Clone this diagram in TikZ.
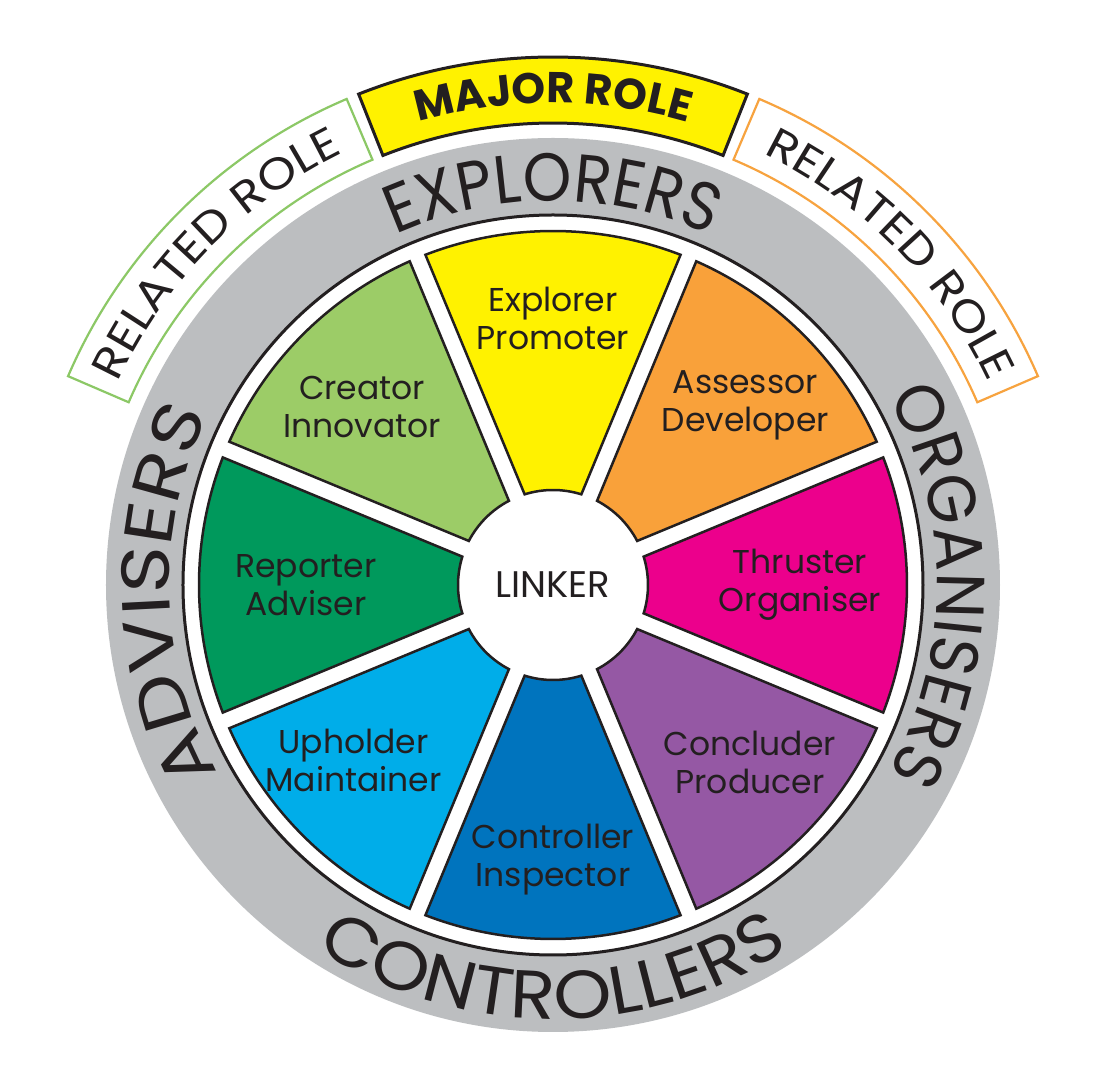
\documentclass[tikz,border=0pt]{standalone}
\usepackage{fontspec}
\setmainfont{Poppins}
\usetikzlibrary{decorations.text}
\definecolor{cyellow}{HTML}{FFF200}
\definecolor{corange}{HTML}{F9A13A}
\definecolor{cmagenta}{HTML}{EC008C}
\definecolor{cpurple}{HTML}{9558A4}
\definecolor{cblue}{HTML}{0074BE}
\definecolor{ccyan}{HTML}{00ADE9}
\definecolor{cdgreen}{HTML}{00995C}
\definecolor{clgreen}{HTML}{9CCC67}
\definecolor{ringgray}{HTML}{BCBEC0}
\definecolor{tabgreen}{HTML}{8CC866}
\definecolor{taborange}{HTML}{F7A33F}
\definecolor{ink}{HTML}{231F20}
\tikzset{
  sectorbox/.style={draw=ink, line width=2.5, line join=miter},
  lab/.style={text=ink, align=center, font=\fontsize{33}{38}\selectfont, inner sep=0},
  majortab/.style={draw=ink, line width=3, fill=cyellow},
  relatedtab/.style={line width=2.2, fill=white},
  ringtext/.style 2 args={decorate, decoration={text along path, text align=center, text color=ink, text={|\fontsize{68}{68}\selectfont\addfontfeature{FakeStretch=#2}|#1}}},
  tabtext/.style={decorate, decoration={text along path, text align=center, text color=ink, text={|\fontsize{44}{44}\selectfont\addfontfeature{FakeStretch=1.13}|#1}}},
  majortext/.style={decorate, decoration={text along path, text align=center, text color=ink, text={|\bfseries\fontsize{43}{43}\selectfont|#1}}}
}
\begin{document}
\begin{tikzpicture}[x=1pt,y=1pt]
\useasboundingbox (-553,-501) rectangle (548,585);
\fill[white] (-553,-501) rectangle (548,585);
% grey ring
\fill[ringgray] (0,0) circle[radius=447];
\draw[draw=ink, line width=3, fill=white] (0,0) circle[radius=370];
% sectors
\def\rin{95}\def\rout{354}\def\gapd{8.5}
\foreach \ang/\col in {90/cyellow,45/corange,0/cmagenta,-45/cpurple,-90/cblue,-135/ccyan,180/cdgreen,135/clgreen}{
  \pgfmathsetmacro\alo{\ang-22.5}
  \pgfmathsetmacro\ahi{\ang+22.5}
  \pgfmathsetmacro\dinA{asin(\gapd/\rin)}
  \pgfmathsetmacro\doutA{asin(\gapd/\rout)}
  \pgfmathsetmacro\aa{\alo+\dinA}
  \pgfmathsetmacro\ab{\alo+\doutA}
  \pgfmathsetmacro\ac{\ahi-\doutA}
  \pgfmathsetmacro\ad{\ahi-\dinA}
  \draw[sectorbox, fill=\col] (\aa:\rin) -- (\ab:\rout) arc[start angle=\ab, end angle=\ac, radius=\rout] -- (\ad:\rin) arc[start angle=\ad, end angle=\aa, radius=\rin] -- cycle;
}
% sector labels
\node[lab] (explorer) at (90:267) {Explorer\\Promoter};
\node[lab] (assessor) at (43:263) {Assessor\\Developer};
\node[lab] (thruster) at (0:247) {Thruster\\Organiser};
\node[lab] (concluder) at (-42:265) {Concluder\\Producer};
\node[lab] (controller) at (-90:275) {Controller\\Inspector};
\node[lab] (upholder) at (-138.6:266) {Upholder\\Maintainer};
\node[lab] (reporter) at (180:247) {Reporter\\Adviser};
\node[lab] (creator) at (137:261) {Creator\\Innovator};
\node[text=ink, font=\fontsize{37}{37}\selectfont, inner sep=0] (linker) at (0,0) {LINKER};
% ring texts
\path[ringtext={EXPLORERS}{0.91}] (130:384) arc[start angle=130, end angle=50, radius=384];
\path[ringtext={ORGANISERS}{0.95}] (45:384) arc[start angle=45, end angle=-45, radius=384];
\path[ringtext={ADVISERS}{1.19}] (236.5:384) arc[start angle=236.5, end angle=126.5, radius=384];
\path[ringtext={CONTROLLERS}{1.09}] (205:434) arc[start angle=205, end angle=335, radius=434];
% tabs
\draw[majortab] (68.4:462) arc[start angle=68.4, end angle=111.6, radius=462] -- (111.6:528) arc[start angle=111.6, end angle=68.4, radius=528] -- cycle;
\draw[relatedtab, draw=tabgreen] (113:462) arc[start angle=113, end angle=156.7, radius=462] -- (156.7:528) arc[start angle=156.7, end angle=113, radius=528] -- cycle;
\draw[relatedtab, draw=taborange] (23.3:462) arc[start angle=23.3, end angle=67, radius=462] -- (67:528) arc[start angle=67, end angle=23.3, radius=528] -- cycle;
\path[majortext=MAJOR ROLE] (111.6:482) arc[start angle=111.6, end angle=68.4, radius=482];
\path[tabtext=RELATED ROLE] (157.5:480) arc[start angle=157.5, end angle=113.5, radius=480];
\path[tabtext=RELATED ROLE] (66.5:480) arc[start angle=66.5, end angle=22.5, radius=480];
\end{tikzpicture}
\end{document}
